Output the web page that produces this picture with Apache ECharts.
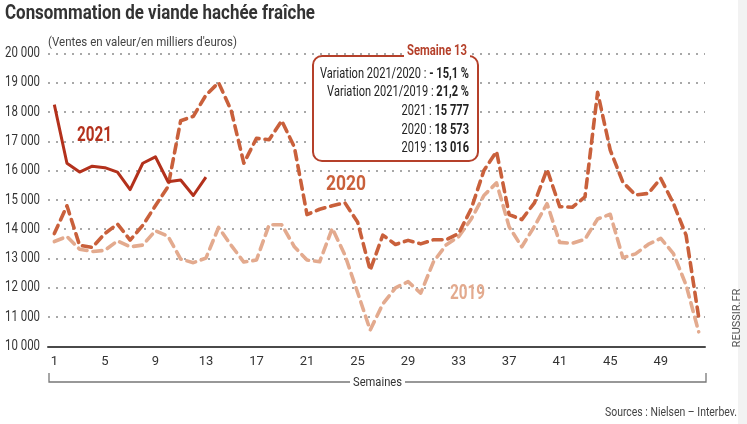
<!DOCTYPE html>
<html>
<head>
<meta charset="utf-8">
<script src="https://cdn.jsdelivr.net/npm/echarts@6/dist/echarts.min.js"></script>
<style>
html,body{margin:0;padding:0;background:#fff;}
#c{width:747px;height:424px;}
</style>
</head>
<body>
<div id="c"></div>
<script>
const weeks = [];
for (let i = 1; i <= 52; i++) weeks.push(String(i));

const y2021 = [18250, 16250, 15950, 16150, 16100, 15950, 15350, 16250, 16470, 15620, 15680, 15150, 15777];

const y2020 = [13850, 14800, 13450, 13380, 13850, 14180, 13630, 14130, 14800, 15450,
  17700, 17850, 18573, 19000, 18050, 16250, 17100, 17050, 17700, 16800,
  14500, 14680, 14800, 14900, 14250, 12600, 13800, 13480, 13620, 13500,
  13640, 13640, 13850, 14700, 16000, 16650, 14500, 14330, 14900, 16040,
  14770, 14750, 15100, 18670, 16700, 15600, 15170, 15220, 15730, 14880,
  13800, 11000];

const y2019 = [13580, 13750, 13320, 13240, 13280, 13600, 13400, 13460, 13950, 13760,
  12980, 12860, 13016, 14060, 13450, 12880, 12950, 14150, 14150, 13400,
  12950, 12890, 14030, 13120, 11850, 10560, 11450, 12000, 12210, 11820,
  12880, 13460, 13745, 14350, 15150, 15580, 14080, 13400, 14100, 14870,
  13550, 13520, 13660, 14350, 14510, 13030, 13160, 13480, 13690, 13170,
  12100, 10500];

const yTickValues = [10000, 11000, 12000, 13000, 14000, 15000, 16000, 17000, 18000, 19000, 20000];
const yTicks = { min: 10000, max: 20000, step: 1000 };

const FONT = "Roboto, 'Liberation Sans', sans-serif";
const C2021 = '#b3311c', C2020 = '#c9603b', C2019 = '#e3aa8e', BOX = '#b5402a';

function fmt(v) { return String(v).replace(/\B(?=(\d{3})+(?!\d))/g, ' '); }

const mctx = document.createElement('canvas').getContext('2d');
function measure(text, font) { mctx.font = font; return mctx.measureText(text).width; }
function fit(text, font, target) { return Math.min(1, target / measure(text, font)); }

function txt(text, x, y, font, fill, target, align, extra) {
  const s = target ? fit(text, font, target) : 1;
  return Object.assign({
    type: 'text', x: x, y: y, scaleX: s, originX: 0, originY: 0,
    style: { text: text, font: font, fill: fill, align: align || 'left', verticalAlign: 'middle' }
  }, extra || {});
}

const chart = echarts.init(document.getElementById('c'), null, { renderer: 'canvas' });

const dashStyle = (color) => ({ color: color, width: 3.6, type: [9, 6], cap: 'round', join: 'round' });

chart.setOption({
  animation: false,
  backgroundColor: '#fff',
  grid: { left: 48, right: 42, top: 53.3, bottom: 77.5, containLabel: false },
  xAxis: {
    type: 'category',
    data: weeks,
    boundaryGap: true,
    axisLine: { show: true, lineStyle: { color: '#4a4a4a', width: 2 } },
    axisTick: { show: false },
    axisLabel: {
      interval: function (idx) { return idx % 4 === 0 && idx < 52; },
      margin: 9, fontSize: 13, color: '#333', fontFamily: FONT
    },
    splitLine: { show: false }
  },
  yAxis: {
    type: 'value',
    min: yTicks.min, max: yTicks.max, interval: yTicks.step,
    axisLine: { show: false },
    axisTick: { show: false },
    axisLabel: { show: false },
    splitLine: { show: true, lineStyle: { color: '#a8a8a8', width: 2, type: [2, 6] } }
  },
  series: [
    { name: '2019', type: 'line', data: y2019, symbol: 'none', lineStyle: dashStyle(C2019), z: 2 },
    { name: '2020', type: 'line', data: y2020, symbol: 'none', lineStyle: dashStyle(C2020), z: 3 },
    { name: '2021', type: 'line', data: y2021, symbol: 'none', lineStyle: { color: C2021, width: 3, join: 'round' }, z: 4 }
  ]
});

// y tick labels, positioned through the axis scale, horizontally condensed
const yFont = "14.5px " + FONT;
const yScale = fit('20 000', yFont, 35);
const yLabels = yTickValues.map(v => ({
  type: 'text', x: 40, y: chart.convertToPixel({ yAxisIndex: 0 }, v), scaleX: yScale, originX: 0, originY: 0,
  style: { text: fmt(v), font: yFont, fill: '#333', align: 'right', verticalAlign: 'middle' }
}));

const boxFontN = "14.5px " + FONT, boxFontB = "bold 14.5px " + FONT;
const boxScale = Math.min(1, 149 / (measure('Variation 2021/2020 : ', boxFontN) + measure('- 15,1 %', boxFontB)));

function boxLine(n, b, y) {
  return {
    type: 'text', x: 469, y: y, z: 11, scaleX: boxScale, originX: 0, originY: 0,
    style: { text: '{n|' + n + '}{b|' + b + '}', align: 'right', verticalAlign: 'middle',
      rich: { n: { font: boxFontN, fill: '#222' }, b: { font: boxFontB, fill: '#222' } } }
  };
}

chart.setOption({
  graphic: yLabels.concat([
    { type: 'rect', x: 738, y: 0, shape: { width: 9, height: 424 }, style: { fill: '#f2f2f2' }, silent: true },
    txt('Consommation de viande hachée fraîche', 5, 14, "bold 20px " + FONT, '#333', 310),
    txt("(Ventes en valeur/en milliers d'euros)", 48, 43, "13.5px " + FONT, '#444', 189, 'left', { z: 5 }),
    txt('2021', 77, 136, "bold 21px " + FONT, C2021, 35),
    txt('2020', 326, 185, "bold 21px " + FONT, C2020, 40),
    txt('2019', 450, 294, "bold 21px " + FONT, C2019, 35),
    { type: 'rect', shape: { x: 313, y: 56, width: 165, height: 105, r: 9 }, style: { fill: '#fff', stroke: BOX, lineWidth: 2 }, z: 10 },
    { type: 'rect', shape: { x: 404, y: 50, width: 66, height: 10 }, style: { fill: '#fff' }, z: 10 },
    txt('Semaine 13', 467, 51, "bold 14.5px " + FONT, BOX, 60, 'right', { z: 11 }),
    boxLine('Variation 2021/2020 : ', '- 15,1 %', 74),
    boxLine('Variation 2021/2019 : ', '21,2 %', 92.5),
    boxLine('2021 : ', '15 777', 111),
    boxLine('2020 : ', '18 573', 130),
    boxLine('2019 : ', '13 016', 148.5),
    { type: 'polyline', shape: { points: [[49, 373], [49, 382], [706, 382], [706, 373]] }, style: { stroke: '#777', lineWidth: 1.3, fill: null } },
    { type: 'rect', shape: { x: 350, y: 375, width: 55, height: 15 }, style: { fill: '#fff' }, z: 4 },
    txt('Semaines', 377.5, 383, "13.5px " + FONT, '#333', 49, 'center', { z: 5 }),
    { type: 'text', x: 737, y: 318, rotation: Math.PI / 2, style: { text: 'REUSSIR.FR', font: "11px " + FONT, fill: '#555', align: 'center', verticalAlign: 'middle' } },
    txt('Sources : Nielsen \u2013 Interbev.', 737, 413, "12.5px " + FONT, '#444', 132, 'right')
  ])
});
</script>
</body>
</html>
